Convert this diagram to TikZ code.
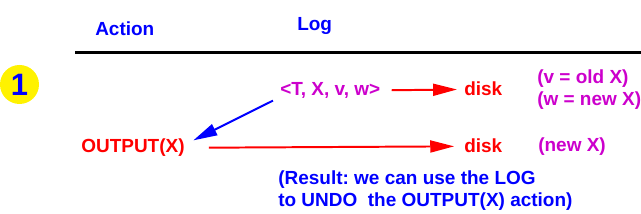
\documentclass[tikz,border=0pt]{standalone}
\usepackage{fontspec}
\setmainfont{Liberation Sans}
\usetikzlibrary{positioning,arrows.meta}
\definecolor{logmag}{RGB}{204,0,204}
\begin{document}
\begin{tikzpicture}[x=0.025cm,y=-0.025cm,
  t/.style={font=\fontsize{13.5}{16}\selectfont\bfseries,inner sep=0pt,align=left},
  arr/.style={line width=1.4pt,-{Triangle[length=17pt,width=8.5pt]}}]
\useasboundingbox (0,0) rectangle (641,214);
\node[t,blue,anchor=base west] (act) at (95,36) {Action};
\node[t,blue,anchor=base west] (log) at (297,31) {Log};
\draw[line width=1.9pt] (75,52.5) -- (641,52.5);
\node[circle,fill=yellow,minimum size=39*0.025cm,inner sep=0pt,text=blue,
  font=\fontsize{22}{24}\selectfont\bfseries] (one) at (19.5,84.5) {1};
\node[t,logmag,anchor=base west] (rec) at (280,96) {<T, X, v, w>};
\node[t,red,anchor=base west] (d1) at (464,96) {disk};
\node[t,logmag,anchor=north west] (vw) at (537,69) {(v = old X)\\(w = new X)};
\node[t,red,anchor=base west] (out) at (81,153) {OUTPUT(X)};
\node[t,red,anchor=base west] (d2) at (464,153) {disk};
\node[t,logmag,anchor=base west] (nx) at (538,152) {(new X)};
\node[t,blue,anchor=north west] (res) at (278,170) {(Result:\ we can use the LOG\\to UNDO\ \ the OUTPUT(X) action)};
\draw[arr,red,shorten <=8pt,shorten >=5pt] (rec) -- (d1);
\draw[arr,red,shorten <=17pt,shorten >=7pt] (out) -- (d2);
\draw[arr,blue] ([xshift=-5pt,yshift=-1pt]rec.south west) -- ([xshift=6pt,yshift=-1pt]out.north east);
\end{tikzpicture}
\end{document}
